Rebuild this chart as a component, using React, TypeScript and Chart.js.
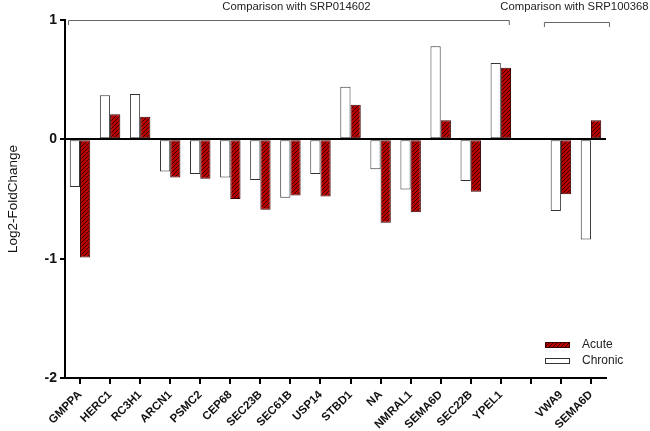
import { useEffect, useRef } from "react";
import { Chart, registerables } from "chart.js";

Chart.register(...registerables);

const genes = [
  "GMPPA", "HERC1", "RC3H1", "ARCN1", "PSMC2", "CEP68", "SEC23B", "SEC61B", "USP14",
  "STBD1", "NA", "NMRAL1", "SEMA6D", "SEC22B", "YPEL1", "", "VWA9", "SEMA6D",
];
const chronic = [
  -0.4, 0.37, 0.38, -0.27, -0.29, -0.32, -0.34, -0.49, -0.29,
  0.44, -0.25, -0.42, 0.78, -0.35, 0.64, null, -0.6, -0.84,
];
const acute = [
  -0.99, 0.21, 0.19, -0.32, -0.33, -0.5, -0.59, -0.47, -0.48,
  0.29, -0.7, -0.61, 0.16, -0.44, 0.6, null, -0.46, 0.16,
];
const yTicks = [1, 0, -1, -2];
// [label, first gene index, last gene index]
const groups: [string, number, number][] = [
  ["Comparison with SRP014602", 0, 14],
  ["Comparison with SRP100368", 16, 17],
];

const FONT = "Arial, 'Liberation Sans', sans-serif";

function hatch(): CanvasPattern | string {
  const c = document.createElement("canvas");
  c.width = 4;
  c.height = 4;
  const g = c.getContext("2d");
  if (!g) return "#b00000";
  g.fillStyle = "#b80000";
  g.fillRect(0, 0, 4, 4);
  g.strokeStyle = "#3a0000";
  g.lineWidth = 1;
  g.beginPath();
  g.moveTo(0, 4);
  g.lineTo(4, 0);
  g.moveTo(-1, 1);
  g.lineTo(1, -1);
  g.moveTo(3, 5);
  g.lineTo(5, 3);
  g.stroke();
  return g.createPattern(c, "repeat") ?? "#b00000";
}

const brackets = {
  id: "brackets",
  afterDraw(chart: any) {
    const { ctx, scales } = chart;
    const x = scales.x;
    const y = scales.y;
    const top = y.getPixelForValue(1);
    const pads = [
      [12, 8, 0],
      [17, 18, 2],
    ];
    ctx.save();
    groups.forEach(([label, a, b], i) => {
      const [pl, pr, dy] = pads[i];
      const x0 = x.getPixelForValue(a) - pl;
      const x1 = x.getPixelForValue(b) + pr;
      const yy = top + dy;
      ctx.strokeStyle = "#666";
      ctx.lineWidth = 1;
      ctx.beginPath();
      ctx.moveTo(x0 + 0.5, yy + 5);
      ctx.lineTo(x0 + 0.5, yy + 0.5);
      ctx.lineTo(x1 + 0.5, yy + 0.5);
      ctx.lineTo(x1 + 0.5, yy + 5);
      ctx.stroke();
      ctx.fillStyle = "#222";
      ctx.font = `11.3px ${FONT}`;
      ctx.textAlign = "center";
      ctx.textBaseline = "middle";
      const mid = (x0 + x1) / 2 + (i === 0 ? 8 : -2);
      ctx.fillText(label, mid, 7);
    });
    ctx.restore();
  },
};

const legendBox = {
  id: "legendBox",
  afterDraw(chart: any) {
    const { ctx, chartArea } = chart;
    const items = [chart.data.datasets[1], chart.data.datasets[0]];
    ctx.save();
    items.forEach((ds: any, i: number) => {
      const bx = chartArea.right - 61;
      const cy = chartArea.bottom - 33 + i * 16;
      ctx.fillStyle = ds.backgroundColor;
      ctx.fillRect(bx, cy - 2.5, 25, 5);
      ctx.strokeStyle = ds.borderColor;
      ctx.lineWidth = 1;
      ctx.strokeRect(bx + 0.5, cy - 2.5, 24, 5);
      ctx.fillStyle = "#222";
      ctx.font = `12px ${FONT}`;
      ctx.textAlign = "left";
      ctx.textBaseline = "middle";
      ctx.fillText(ds.label, bx + 37, cy);
    });
    ctx.restore();
  },
};

export default function App() {
  const ref = useRef<HTMLCanvasElement | null>(null);

  useEffect(() => {
    if (!ref.current) return;
    const chart = new Chart(ref.current, {
      type: "bar",
      data: {
        labels: genes,
        datasets: [
          {
            label: "Chronic",
            data: chronic,
            backgroundColor: "#ffffff",
            borderColor: "#333333",
            borderWidth: 1,
            borderSkipped: false,
          },
          {
            label: "Acute",
            data: acute,
            backgroundColor: hatch(),
            borderColor: "#3a0000",
            borderWidth: 1,
            borderSkipped: false,
          },
        ],
      },
      options: {
        responsive: false,
        animation: false,
        events: [],
        layout: { padding: { left: 0, right: 44, top: 20, bottom: 0 } },
        datasets: { bar: { categoryPercentage: 0.68, barPercentage: 1 } },
        plugins: {
          legend: { display: false },
          tooltip: { enabled: false },
        },
        scales: {
          x: {
            offset: true,
            afterFit: (s: any) => {
              s.height = 53;
            },
            border: { color: "#000", width: 2 },
            grid: {
              offset: false,
              drawOnChartArea: false,
              color: "#000",
              lineWidth: 2,
              tickLength: 6,
            },
            ticks: {
              autoSkip: false,
              maxRotation: 45,
              minRotation: 45,
              color: "#111",
              font: { family: FONT, size: 11.5, weight: "bold" },
              padding: 4,
            },
          },
          y: {
            min: -2,
            max: 1,
            afterFit: (s: any) => {
              s.width = 65;
            },
            afterBuildTicks: (s: any) => {
              s.ticks = yTicks.map((v) => ({ value: v }));
            },
            border: { color: "#000", width: 2 },
            grid: {
              color: (c: any) => (c.tick && c.tick.value === 0 ? "#000" : "rgba(0,0,0,0)"),
              lineWidth: 2,
              tickColor: "#000",
              tickWidth: 2,
              tickLength: 5,
            },
            ticks: {
              color: "#111",
              padding: 3,
              font: { family: FONT, size: 14, weight: "bold" },
            },
            title: {
              display: true,
              text: "Log2-FoldChange",
              color: "#111",
              font: { family: FONT, size: 13.5 },
              padding: { top: 5, bottom: 0 },
            },
          },
        },
      },
      plugins: [brackets, legendBox],
    });
    return () => chart.destroy();
  }, []);

  return (
    <div style={{ position: "absolute", left: 0, top: 0, width: 650, height: 431, background: "#fff" }}>
      <canvas ref={ref} width={650} height={431} />
    </div>
  );
}
